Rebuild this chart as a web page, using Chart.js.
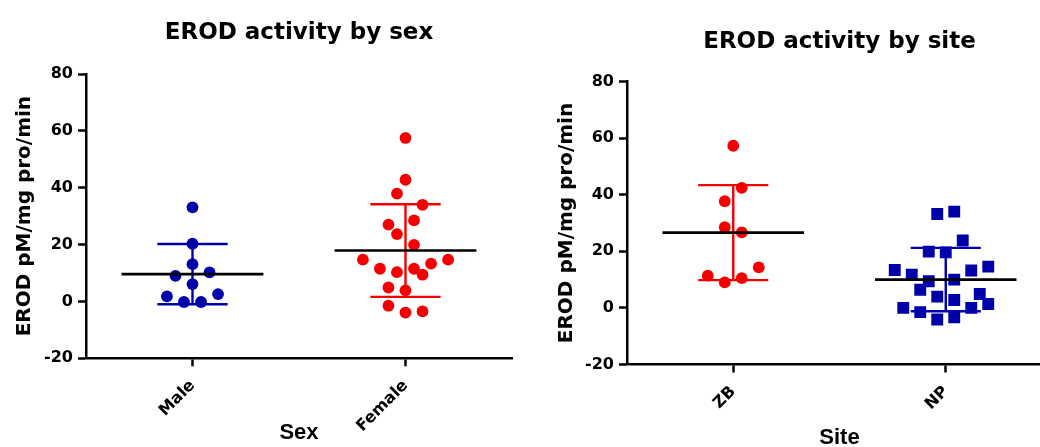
<!DOCTYPE html>
<html lang="en">
<head>
<meta charset="UTF-8">
<title>EROD activity</title>
<script src="https://cdn.jsdelivr.net/npm/chart.js"></script>
<style>
  html, body { margin: 0; padding: 0; background: #fff; overflow: hidden; }
  #wrap { position: relative; width: 1040px; height: 447px; overflow: hidden; background: #fff; }
  #sexChart { position: absolute; left: 0; top: 0; }
  #siteChart { position: absolute; left: 520px; top: 0; }
</style>
</head>
<body>
<div id="wrap">
  <canvas id="sexChart" width="530" height="447"></canvas>
  <canvas id="siteChart" width="560" height="447"></canvas>
</div>
<script>
// values (pM/mg pro/min), jitter = horizontal spread of the dots
const sexCategories = ['Male', 'Female'];
const maleValues = [33.1, 20.3, 13.1, 9.0, 10.2, 6.1, 2.6, 1.8, -0.2, -0.2];
const maleJitter = [0, 0, 0, -0.08, 0.08, 0, 0.12, -0.12, -0.04, 0.04];
const femaleValues = [57.5, 42.8, 37.9, 34.0, 27.0, 28.5, 23.7, 19.9, 14.7, 14.7,
                      11.5, 10.3, 11.5, 13.3, 9.4, 4.9, 3.9, -1.5, -3.9, -3.5];
const femaleJitter = [0, 0, -0.04, 0.08, -0.08, 0.04, -0.04, 0.04, -0.2, 0.2,
                      -0.12, -0.04, 0.04, 0.12, 0.08, -0.08, 0, -0.08, 0, 0.08];
const sexMean = [9.6, 17.9];
const sexSD = [10.6, 16.3];

const siteCategories = ['ZB', 'NP'];
const zbValues = [57.3, 42.4, 37.7, 28.5, 26.7, 14.3, 11.4, 9.0, 10.5];
const zbJitter = [0, 0.04, -0.04, -0.04, 0.04, 0.12, -0.12, -0.04, 0.04];
const npValues = [33.2, 34.0, 23.8, 19.9, 19.6, 13.4, 11.7, 13.2, 14.6, 9.4, 10.0,
                  6.4, 4.0, 2.8, 4.9, 1.4, 0.0, -1.5, -4.1, -3.3, 0.0];
const npJitter = [-0.04, 0.04, 0.08, -0.08, 0, -0.24, -0.16, 0.12, 0.2, -0.08, 0.04,
                  -0.12, -0.04, 0.04, 0.16, 0.2, -0.2, -0.12, -0.04, 0.04, 0.12];
const siteMean = [26.6, 10.0];
const siteSD = [16.8, 11.2];

const yTicks = [-20, 0, 20, 40, 60, 80];

const BLUE = '#0000aa';
const RED = '#f50000';
const MEAN_HALF = 0.333;
const CAP_HALF = 0.165;

function dots(values, jitter, center) {
    return values.map((v, i) => ({ x: center + jitter[i], y: v }));
}

function sdBar(center, mean, sd) {
    const hi = mean + sd, lo = mean - sd;
    return [
        { x: center - CAP_HALF, y: hi }, { x: center + CAP_HALF, y: hi }, { x: center, y: null },
        { x: center, y: hi }, { x: center, y: lo }, { x: center, y: null },
        { x: center - CAP_HALF, y: lo }, { x: center + CAP_HALF, y: lo }
    ];
}

function makeChart(id, cfg) {
    const datasets = [];
    cfg.groups.forEach((g, i) => {
        datasets.push({
            type: 'line', data: [{ x: i - MEAN_HALF, y: cfg.means[i] }, { x: i + MEAN_HALF, y: cfg.means[i] }],
            borderColor: '#000', borderWidth: 2.6, pointRadius: 0, showLine: true, order: 0
        });
        datasets.push({
            type: 'line', data: sdBar(i, cfg.means[i], cfg.sds[i]),
            borderColor: g.color, borderWidth: 2.4, pointRadius: 0, showLine: true, spanGaps: false, order: 1
        });
        datasets.push({
            data: dots(g.values, g.jitter, i),
            backgroundColor: g.color, borderColor: g.color, borderWidth: 0,
            pointStyle: g.shape, pointRadius: g.shape === 'rect' ? 8.4 : 5.9, order: 2
        });
    });

    return new Chart(document.getElementById(id), {
        type: 'scatter',
        data: { datasets },
        options: {
            responsive: false,
            animation: false,
            layout: { padding: { left: 0, top: 0, bottom: 0, right: cfg.rightPad } },
            plugins: {
                legend: { display: false },
                tooltip: { enabled: false },
                title: {
                    display: true, text: cfg.title, color: '#000', fullSize: false,
                    font: { family: 'DejaVu Sans', weight: 'bold', size: 23 },
                    padding: cfg.titlePad
                }
            },
            scales: {
                x: {
                    type: 'linear', min: -0.5, max: 1.5,
                    afterBuildTicks: s => { s.ticks = cfg.categories.map((c, i) => ({ value: i })); },
                    afterFit: s => { s.height = cfg.xHeight; },
                    ticks: {
                        callback: v => cfg.categories[v],
                        minRotation: 45, maxRotation: 45, autoSkip: false, padding: 10,
                        color: '#000', font: { family: 'DejaVu Sans', weight: 'bold', size: 16 }
                    },
                    grid: { drawOnChartArea: false, drawTicks: true, tickLength: 8, tickWidth: 2.5, tickColor: '#000' },
                    border: { color: '#000', width: 2.5 },
                    title: {
                        display: true, text: cfg.xTitle, color: '#000',
                        font: { family: 'Liberation Sans', weight: 'bold', size: 22 },
                        padding: { top: 0, bottom: cfg.xTitlePad }
                    }
                },
                y: {
                    min: -20, max: 80,
                    afterBuildTicks: s => { s.ticks = yTicks.map(v => ({ value: v })); },
                    afterFit: s => { s.width = cfg.yWidth; },
                    ticks: {
                        padding: 5, color: '#000',
                        font: { family: 'DejaVu Sans', weight: 'bold', size: 16 }
                    },
                    grid: { drawOnChartArea: false, drawTicks: true, tickLength: 8, tickWidth: 2.5, tickColor: '#000' },
                    border: { color: '#000', width: 2.5 },
                    title: {
                        display: true, text: 'EROD pM/mg pro/min', color: '#000',
                        font: { family: 'DejaVu Sans', weight: 'bold', size: 20 },
                        padding: { top: cfg.yTitlePad, bottom: 0 }
                    }
                }
            }
        }
    });
}

makeChart('sexChart', {
    title: 'EROD activity by sex',
    categories: sexCategories,
    groups: [
        { values: maleValues, jitter: maleJitter, color: BLUE, shape: 'circle' },
        { values: femaleValues, jitter: femaleJitter, color: RED, shape: 'circle' }
    ],
    means: sexMean, sds: sexSD,
    xTitle: 'Sex',
    titlePad: { top: 19.5, bottom: 26.9 },
    yWidth: 86, xHeight: 88.7, rightPad: 18,
    yTitlePad: 12.9, xTitlePad: 1.2
});

makeChart('siteChart', {
    title: 'EROD activity by site',
    categories: siteCategories,
    groups: [
        { values: zbValues, jitter: zbJitter, color: RED, shape: 'circle' },
        { values: npValues, jitter: npJitter, color: BLUE, shape: 'rect' }
    ],
    means: siteMean, sds: siteSD,
    xTitle: 'Site',
    titlePad: { top: 28.3, bottom: 25.6 },
    yWidth: 107, xHeight: 82.5, rightPad: 28,
    yTitlePad: 34.5, xTitlePad: -3.8
});
</script>
</body>
</html>
